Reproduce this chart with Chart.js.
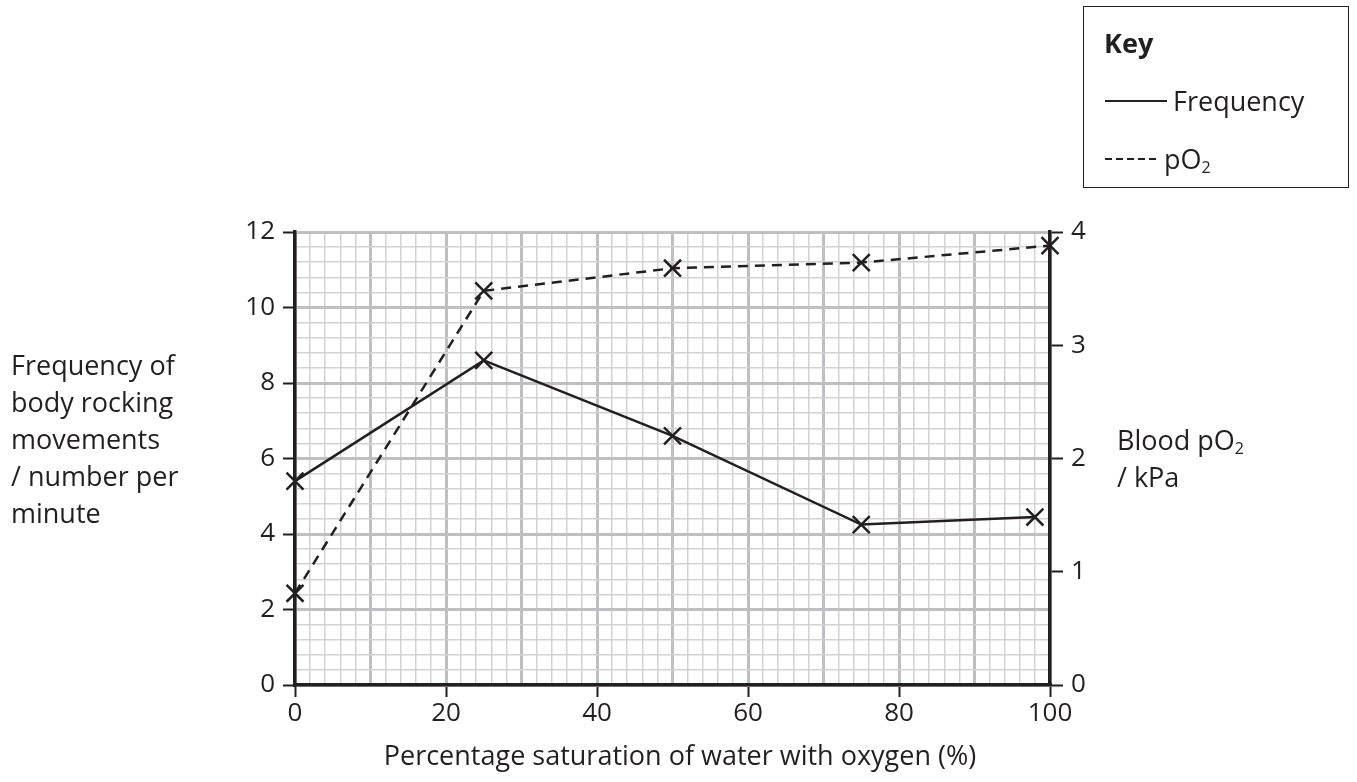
<!DOCTYPE html>
<html>
<head>
<meta charset="utf-8">
<script src="https://cdn.jsdelivr.net/npm/chart.js@4"></script>
<style>
  body { margin: 0; background: #fff; font-family: "Open Sans", sans-serif; color: #231f20; }
  #wrap { position: relative; width: 1357px; height: 782px; }
  .txt { position: absolute; font-size: 27px; line-height: 37px; white-space: nowrap; }
  sub { font-size: 16px; vertical-align: -4px; line-height: 0; }
  #key { position: absolute; left: 1083px; top: 6px; width: 264px; height: 180px; border: 1.5px solid #231f20; }
  .ln { position: absolute; height: 2px; }
</style>
</head>
<body>
<div id="wrap">
  <canvas id="c" width="1357" height="782"></canvas>

  <div class="txt" style="left:11px; top:346px;">Frequency of<br>body rocking<br>movements<br>/ number per<br>minute</div>
  <div class="txt" style="left:1117px; top:421px;">Blood pO<sub>2</sub><br>/ kPa</div>
  <div class="txt" style="left:0; width:1360px; text-align:center; top:736px;">Percentage saturation of water with oxygen (%)</div>

  <div id="key">
    <div class="txt" style="left:20px; top:17px; font-weight:bold;">Key</div>
    <div class="ln" style="left:21px; top:93px; width:62px; background:#231f20;"></div>
    <div class="txt" style="left:89px; top:75px;">Frequency</div>
    <div class="ln" style="left:21px; top:151px; width:55px; background:repeating-linear-gradient(90deg, #231f20 0 7px, transparent 7px 11px);"></div>
    <div class="txt" style="left:80px; top:133px;">pO<sub>2</sub></div>
  </div>
</div>

<script>
  // percentage saturation (x) for each series
  const satFreq = [0, 25, 50, 75, 98];
  const freq = [5.4, 8.6, 6.6, 4.25, 4.45];
  const satPO2 = [0, 25, 50, 75, 100];
  const pO2 = [0.81, 3.48, 3.68, 3.73, 3.88];

  const ink = "#231f20";
  const minorGrid = "#d2d2d5";
  const majorGrid = "#bfbfc3";

  const isMult = (v, m) => Math.abs(v / m - Math.round(v / m)) < 1e-6;

  function fixWidth(w) {
    return function (scale) { scale.width = w; };
  }

  new Chart(document.getElementById("c"), {
    type: "line",
    data: {
      datasets: [
        {
          label: "Frequency",
          data: satFreq.map((x, i) => ({ x: x, y: freq[i] })),
          yAxisID: "y",
          borderColor: ink,
          borderWidth: 2.5,
          pointStyle: "crossRot",
          pointRadius: 12,
          pointBorderWidth: 2.5,
          pointBorderColor: ink,
          clip: false
        },
        {
          label: "pO2",
          data: satPO2.map((x, i) => ({ x: x, y: pO2[i] })),
          yAxisID: "y2",
          borderColor: ink,
          borderWidth: 2.5,
          borderDash: [10, 7],
          pointStyle: "crossRot",
          pointRadius: 12,
          pointBorderWidth: 2.5,
          pointBorderColor: ink,
          clip: false
        }
      ]
    },
    options: {
      responsive: false,
      animation: false,
      layout: { padding: { top: 232, left: 0, right: 0, bottom: 0 } },
      plugins: { legend: { display: false }, tooltip: { enabled: false } },
      scales: {
        x: {
          type: "linear",
          min: 0,
          max: 100,
          afterFit: function (scale) { scale.height = 97; },
          border: { color: ink, width: 3.5 },
          grid: {
            color: ctx => isMult(ctx.tick.value, 10) ? majorGrid : minorGrid,
            lineWidth: ctx => isMult(ctx.tick.value, 10) ? 3 : 1.5,
            tickColor: ctx => isMult(ctx.tick.value, 20) ? ink : "rgba(0,0,0,0)",
            tickWidth: 2,
            tickLength: 12
          },
          ticks: {
            stepSize: 2,
            autoSkip: false,
            maxRotation: 0,
            padding: 1,
            color: ink,
            font: { family: "Open Sans", size: 26 },
            callback: v => isMult(v, 20) ? String(v) : ""
          }
        },
        y: {
          type: "linear",
          position: "left",
          min: 0,
          max: 12,
          afterFit: fixWidth(295),
          border: { color: ink, width: 3.5 },
          grid: {
            color: ctx => isMult(ctx.tick.value, 2) ? majorGrid : minorGrid,
            lineWidth: ctx => isMult(ctx.tick.value, 2) ? 3 : 1.5,
            tickColor: ctx => isMult(ctx.tick.value, 2) ? ink : "rgba(0,0,0,0)",
            tickWidth: 2,
            tickLength: 12
          },
          ticks: {
            stepSize: 0.4,
            autoSkip: false,
            padding: 8,
            color: ink,
            font: { family: "Open Sans", size: 26 },
            callback: v => isMult(v, 2) ? String(Math.round(v)) : ""
          }
        },
        y2: {
          type: "linear",
          position: "right",
          min: 0,
          max: 4,
          afterFit: fixWidth(307),
          border: { color: ink, width: 3.5 },
          grid: {
            drawOnChartArea: false,
            tickColor: ink,
            tickWidth: 2,
            tickLength: 13
          },
          ticks: {
            stepSize: 1,
            padding: 8,
            color: ink,
            font: { family: "Open Sans", size: 26 }
          }
        }
      }
    }
  });
</script>
</body>
</html>
